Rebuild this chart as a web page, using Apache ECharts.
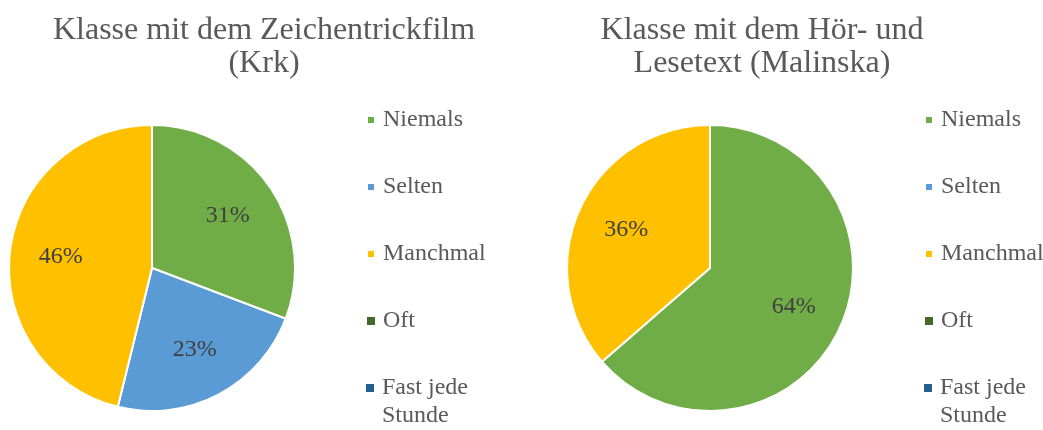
<!DOCTYPE html>
<html>
<head>
<meta charset="utf-8">
<script src="https://cdn.jsdelivr.net/npm/echarts@6/dist/echarts.min.js"></script>
<style>
  html, body { margin: 0; padding: 0; background: #fff; }
  #chart { width: 1043px; height: 430px; }
</style>
</head>
<body>
<div id="chart"></div>
<script>
// Answer categories (legend order)
const categories = ['Niemals', 'Selten', 'Manchmal', 'Oft', 'Fast jede Stunde'];
const colors = ['#70AD47', '#5B9BD5', '#FFC000', '#43682B', '#255E91'];

// Student counts per answer
const krkCounts = [4, 3, 6, 0, 0];
const malinskaCounts = [7, 0, 4, 0, 0];

const titleKrk = 'Klasse mit dem Zeichentrickfilm\n(Krk)';
const titleMalinska = 'Klasse mit dem Hör- und\nLesetext (Malinska)';

const FONT = '"Liberation Serif", "Times New Roman", serif';

function toData(counts) {
  return counts.map((v, i) => ({
    name: categories[i],
    value: v,
    itemStyle: { color: colors[i], borderWidth: v > 0 ? 2 : 0 }
  }));
}

function pctLabel(p) {
  if (!p.value) return '';
  return Math.round(p.percent) + '%';
}

function pieSeries(counts, cx) {
  return [
    {
      type: 'pie',
      center: [cx, 268],
      radius: 143,
      startAngle: 90,
      clockwise: true,
      silent: true,
      avoidLabelOverlap: false,
      itemStyle: { borderColor: '#fff', borderWidth: 2 },
      label: { show: false },
      labelLine: { show: false },
      data: toData(counts)
    },
    {
      // transparent ring used only to place the percentage labels
      type: 'pie',
      center: [cx, 268],
      radius: 178,
      startAngle: 90,
      clockwise: true,
      silent: true,
      avoidLabelOverlap: false,
      itemStyle: { color: 'rgba(0,0,0,0)', borderWidth: 0 },
      label: {
        show: true,
        position: 'inside',
        formatter: pctLabel,
        color: '#404040',
        fontFamily: FONT,
        fontSize: 24
      },
      labelLine: { show: false },
      data: counts.map((v, i) => ({ name: categories[i], value: v }))
    }
  ];
}

function legend(left, top, names, twoLines) {
  return {
    orient: 'vertical',
    left: left,
    top: top,
    padding: 0,
    itemGap: 39,
    itemWidth: 8,
    itemHeight: twoLines ? 36 : 8,
    // for the wrapped item the square sits at the top, next to the first line
    icon: twoLines ? 'path://M0,0H8V8H0Z M0,36L8,36' : 'rect',
    selectedMode: false,
    data: names,
    formatter: n => n === 'Fast jede Stunde' ? 'Fast jede\nStunde' : n,
    textStyle: {
      color: '#595959',
      fontFamily: FONT,
      fontSize: 24,
      lineHeight: 28,
      padding: [0, 0, 0, 3]
    }
  };
}

function title(text, cx) {
  return {
    text: text,
    left: cx,
    top: 14,
    padding: 0,
    textAlign: 'center',
    textStyle: {
      color: '#595959',
      fontFamily: FONT,
      fontSize: 32,
      fontWeight: 'normal',
      lineHeight: 33
    }
  };
}

const firstFour = categories.slice(0, 4);
const lastOne = categories.slice(4);

const chart = echarts.init(document.getElementById('chart'), null, { renderer: 'canvas' });
chart.setOption({
  animation: false,
  backgroundColor: '#fff',
  color: colors,
  title: [title(titleKrk, 264), title(titleMalinska, 762)],
  legend: [
    legend(366, 106, firstFour, false), legend(366, 374, lastOne, true),
    legend(924, 106, firstFour, false), legend(924, 374, lastOne, true)
  ],
  series: [...pieSeries(krkCounts, 152), ...pieSeries(malinskaCounts, 710)]
});
</script>
</body>
</html>
